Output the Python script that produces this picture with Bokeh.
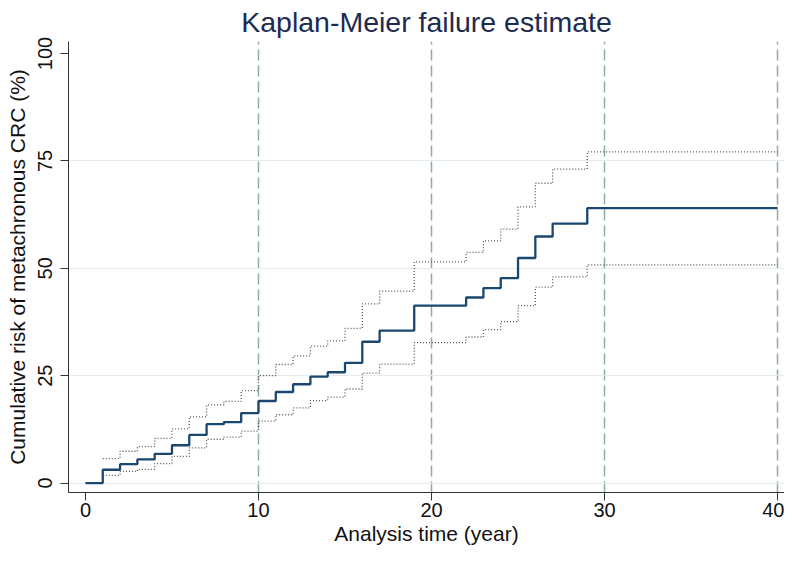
from bokeh.plotting import figure
from bokeh.models import Range1d, FixedTicker
from bokeh.embed import file_html
from bokeh.resources import INLINE

# Data
times = [0, 1, 2, 3, 4, 5, 6, 7, 8, 9, 10, 11, 12, 13, 14, 15, 16, 17, 19,
         22, 23, 24, 25, 26, 27, 29, 40]
failure = [0, 3.1, 4.4, 5.5, 6.8, 8.8, 11.2, 13.7, 14.2, 16.3, 19.1, 21.2, 23.0,
           24.8, 25.8, 28.0, 32.9, 35.5, 41.3, 43.2, 45.4, 47.7, 52.4, 57.4,
           60.4, 64.0, 64.0]
ci_times = times[1:]
upper_ci = [5.7, 7.4, 8.5, 10.4, 12.6, 15.4, 18.2, 19.0, 21.5, 25.0, 27.6, 29.6,
            31.9, 33.1, 36.0, 41.7, 44.7, 51.5, 53.7, 56.4, 59.1, 64.3, 69.8,
            73.1, 77.1, 77.1]
lower_ci = [1.8, 2.7, 3.2, 4.5, 6.2, 8.2, 10.2, 10.7, 12.1, 14.4, 15.9, 17.5,
            19.2, 20.0, 21.9, 25.6, 27.7, 32.7, 34.0, 35.7, 37.6, 41.3, 45.6,
            48.0, 50.8, 50.8]
x_ticks = [0, 10, 20, 30, 40]
y_ticks = [0, 25, 50, 75, 100]
y_grid = [0, 25, 50, 75]

FONT = "Liberation Sans"

p = figure(width=784, height=547, output_backend="svg", toolbar_location=None,
           x_range=Range1d(-0.98, 40.4), y_range=Range1d(-2.2, 102.8),
           min_border_left=68, min_border_right=0, min_border_top=10,
           min_border_bottom=40)

p.title.text = "Kaplan-Meier failure estimate"
p.title.text_font = FONT
p.title.text_font_size = "28.5px"
p.title.text_font_style = "normal"
p.title.text_color = "#1c2b4f"
p.title.align = "center"
p.title.standoff = 7

p.outline_line_color = None
p.background_fill_color = "white"

# grids
p.xgrid.ticker = FixedTicker(ticks=x_ticks[1:])
p.xgrid.grid_line_color = "#8aaea6"
p.xgrid.grid_line_dash = "11 5"
p.xgrid.grid_line_width = 1.5
p.ygrid.ticker = FixedTicker(ticks=y_grid)
p.ygrid.grid_line_color = "#e3ecee"
p.ygrid.grid_line_width = 1.2

for ax in (p.xaxis[0], p.yaxis[0]):
    ax.axis_line_color = "#333333"
    ax.major_tick_line_color = "#333333"
    ax.major_tick_out = 8
    ax.major_tick_in = 0
    ax.minor_tick_line_color = None
    ax.major_label_text_font = FONT
    ax.major_label_text_font_size = "20px"
    ax.major_label_text_color = "#111111"
    ax.axis_label_text_font = FONT
    ax.axis_label_text_font_size = "21px"
    ax.axis_label_text_font_style = "normal"
    ax.axis_label_text_color = "#111111"

p.xaxis.ticker = FixedTicker(ticks=x_ticks)
p.yaxis.ticker = FixedTicker(ticks=y_ticks)
p.xaxis.axis_label = "Analysis time (year)"
p.yaxis.axis_label = "Cumulative risk of metachronous CRC (%)"
p.xaxis.major_label_standoff = 2
p.xaxis.axis_label_standoff = 2
p.yaxis.major_label_standoff = 8
p.yaxis.axis_label_standoff = 7
p.yaxis.major_label_orientation = "vertical"

p.step(ci_times, upper_ci, mode="after", line_color="#555555", line_width=1.3,
       line_dash="1 2")
p.step(ci_times, lower_ci, mode="after", line_color="#555555", line_width=1.3,
       line_dash="1 2")
p.step(times, failure, mode="after", line_color="#1a476f", line_width=2.3)

open("out.html", "w").write(file_html(p, INLINE))
